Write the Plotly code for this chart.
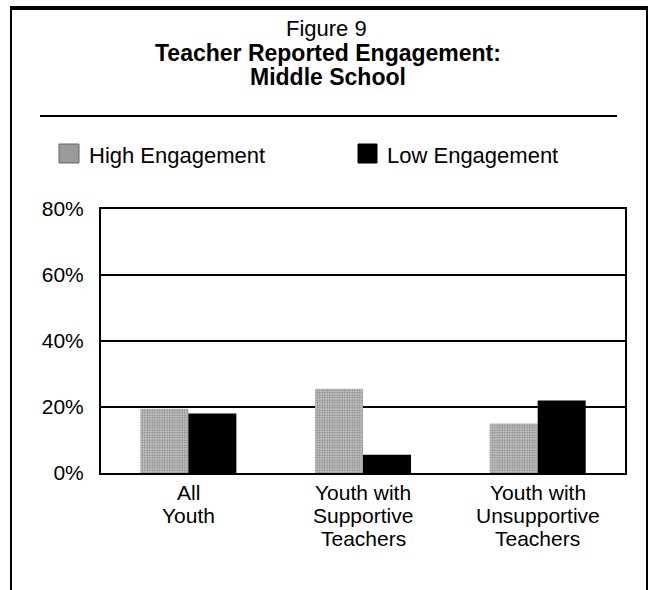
import plotly.graph_objects as go

# Data
categories = ["All Youth", "Youth with Supportive Teachers", "Youth with Unsupportive Teachers"]
category_lines = [["All", "Youth"],
                  ["Youth with", "Supportive", "Teachers"],
                  ["Youth with", "Unsupportive", "Teachers"]]
high_engagement = [19.5, 25.5, 15.0]
low_engagement = [18.0, 5.5, 22.0]
y_ticks = [0, 20, 40, 60, 80]
y_tick_labels = ["0%", "20%", "40%", "60%", "80%"]

FONT = "Liberation Sans, Arial, sans-serif"
W, H = 652, 590
# plot area in pixels
PL, PR, PT, PB = 101, 625, 209, 473


def px_x(px):
    return (px - PL) / (PR - PL)


def px_y(py):
    return (PB - py) / (PB - PT)


fig = go.Figure()
fig.add_trace(go.Bar(
    x=categories, y=high_engagement, name="High Engagement",
    marker=dict(color="#b0b0b0", line=dict(width=0),
                pattern=dict(shape=".", fgcolor="#3c3c3c", bgcolor="#c4c4c4",
                             size=2.5, solidity=0.4)),
))
fig.add_trace(go.Bar(
    x=categories, y=low_engagement, name="Low Engagement",
    marker=dict(color="#000000", line=dict(width=0)),
))

shapes = []
# outer frame
shapes.append(dict(type="line", xref="paper", yref="paper",
                   x0=px_x(10), x1=px_x(648), y0=px_y(8), y1=px_y(8),
                   line=dict(color="black", width=4)))
shapes.append(dict(type="line", xref="paper", yref="paper",
                   x0=px_x(11), x1=px_x(11), y0=px_y(8), y1=px_y(600),
                   line=dict(color="black", width=2)))
shapes.append(dict(type="line", xref="paper", yref="paper",
                   x0=px_x(647), x1=px_x(647), y0=px_y(8), y1=px_y(600),
                   line=dict(color="black", width=2)))
# rule under the title
shapes.append(dict(type="line", xref="paper", yref="paper",
                   x0=px_x(40), x1=px_x(617), y0=px_y(116), y1=px_y(116),
                   line=dict(color="black", width=2)))
# legend swatches
shapes.append(dict(type="rect", xref="paper", yref="paper",
                   x0=px_x(59), x1=px_x(79), y0=px_y(144), y1=px_y(163),
                   fillcolor="#9a9a9a", line=dict(color="#666", width=1)))
shapes.append(dict(type="rect", xref="paper", yref="paper",
                   x0=px_x(358), x1=px_x(377), y0=px_y(144), y1=px_y(163),
                   fillcolor="black", line=dict(color="black", width=1)))


def text(t, x, y, size, anchor="center", xref="paper"):
    return dict(text=t, x=x, y=y, xref=xref, yref="paper", showarrow=False,
                xanchor=anchor, yanchor="middle",
                font=dict(family=FONT, size=size, color="black"))


annotations = [
    text("Figure 9", px_x(326), px_y(29), 22),
    text("<b>Teacher Reported Engagement:</b>", px_x(328), px_y(53), 23),
    text("<b>Middle School</b>", px_x(328), px_y(77), 23),
    text("High Engagement", px_x(87), px_y(155), 22, anchor="left"),
    text("Low Engagement", px_x(385), px_y(155), 22, anchor="left"),
]
# category labels under the axis, one line each
for cat, lines in zip(categories, category_lines):
    for i, line in enumerate(lines):
        annotations.append(text(line, cat, px_y(492 + 23 * i), 21, xref="x"))

fig.update_layout(
    width=W, height=H,
    margin=dict(l=PL, r=W - PR, t=PT, b=H - PB, pad=0),
    paper_bgcolor="white", plot_bgcolor="white",
    barmode="group", bargap=0.45, bargroupgap=0,
    showlegend=False,
    shapes=shapes, annotations=annotations,
    font=dict(family=FONT, size=21, color="black"),
)
fig.update_yaxes(
    range=[0, 80], tickvals=y_ticks, ticktext=y_tick_labels,
    showgrid=True, gridcolor="black", gridwidth=1.5,
    showline=True, linecolor="black", linewidth=2, mirror=True,
    zeroline=False, ticks="", ticklabelstandoff=11,
    tickfont=dict(family=FONT, size=21, color="black"),
)
fig.update_xaxes(
    showline=True, linecolor="black", linewidth=2, mirror=True,
    showgrid=False, ticks="", showticklabels=False,
)

fig.write_html("out.html")
